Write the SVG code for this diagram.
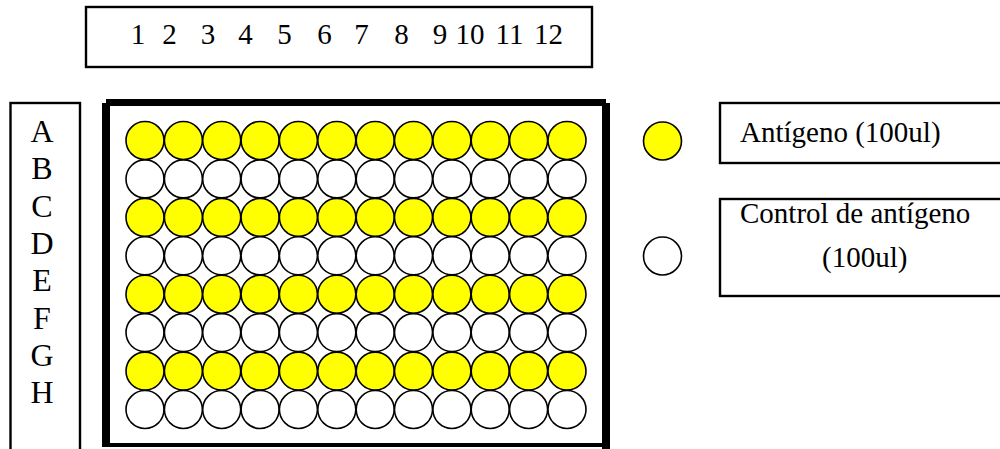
<svg xmlns="http://www.w3.org/2000/svg" width="1000" height="449" viewBox="0 0 1000 449">
<defs>
<style>
.box{fill:#fff;stroke:#000;stroke-width:2.4}
.t{font-family:"Liberation Serif","Times New Roman",serif;font-size:29px;fill:#000}
.L{font-family:"Liberation Serif","Times New Roman",serif;font-size:32px;fill:#000;text-anchor:middle}
.y{fill:#ffff00;stroke:#000;stroke-width:1.6}
.w{fill:#fff;stroke:#000;stroke-width:1.6}
</style>
<circle id="cy" r="19" class="y"/>
<circle id="cw" r="19" class="w"/>
</defs>
<rect width="1000" height="449" fill="#fff"/>

<g id="columns">
<rect class="box" x="86" y="7" width="506" height="60"/>
<g class="t" text-anchor="middle">
<text x="138" y="44">1</text>
<text x="169.5" y="44">2</text>
<text x="208" y="44">3</text>
<text x="245.5" y="44">4</text>
<text x="284.5" y="44">5</text>
<text x="324.5" y="44">6</text>
<text x="361.5" y="44">7</text>
<text x="401.5" y="44">8</text>
<text x="440" y="44">9</text>
<text x="470" y="44">10</text>
<text x="509.5" y="44">11</text>
<text x="548.5" y="44">12</text>
</g>
</g>

<g id="rows">
<rect class="box" x="10.5" y="103" width="69.5" height="400"/>
<text class="L" x="42" y="142">A</text>
<text class="L" x="42" y="179.3">B</text>
<text class="L" x="42" y="216.6">C</text>
<text class="L" x="42" y="253.9">D</text>
<text class="L" x="42" y="291.2">E</text>
<text class="L" x="42" y="328.5">F</text>
<text class="L" x="42" y="365.8">G</text>
<text class="L" x="42" y="403">H</text>
</g>

<g id="plate">
<rect x="106" y="99" width="500" height="7" fill="#000"/>
<rect x="102" y="103" width="8" height="344" fill="#000"/>
<rect x="102" y="443" width="504" height="4" fill="#000"/>
<rect x="602" y="103" width="8" height="350" fill="#000"/>
<g id="wells">
<g transform="translate(0,140.5)">
<use href="#cy" x="145"/><use href="#cy" x="183.4"/><use href="#cy" x="221.7"/><use href="#cy" x="260.1"/><use href="#cy" x="298.4"/><use href="#cy" x="336.8"/><use href="#cy" x="375.2"/><use href="#cy" x="413.5"/><use href="#cy" x="451.9"/><use href="#cy" x="490.2"/><use href="#cy" x="528.6"/><use href="#cy" x="567"/>
</g>
<g transform="translate(0,178.9)">
<use href="#cw" x="145"/><use href="#cw" x="183.4"/><use href="#cw" x="221.7"/><use href="#cw" x="260.1"/><use href="#cw" x="298.4"/><use href="#cw" x="336.8"/><use href="#cw" x="375.2"/><use href="#cw" x="413.5"/><use href="#cw" x="451.9"/><use href="#cw" x="490.2"/><use href="#cw" x="528.6"/><use href="#cw" x="567"/>
</g>
<g transform="translate(0,217.4)">
<use href="#cy" x="145"/><use href="#cy" x="183.4"/><use href="#cy" x="221.7"/><use href="#cy" x="260.1"/><use href="#cy" x="298.4"/><use href="#cy" x="336.8"/><use href="#cy" x="375.2"/><use href="#cy" x="413.5"/><use href="#cy" x="451.9"/><use href="#cy" x="490.2"/><use href="#cy" x="528.6"/><use href="#cy" x="567"/>
</g>
<g transform="translate(0,255.8)">
<use href="#cw" x="145"/><use href="#cw" x="183.4"/><use href="#cw" x="221.7"/><use href="#cw" x="260.1"/><use href="#cw" x="298.4"/><use href="#cw" x="336.8"/><use href="#cw" x="375.2"/><use href="#cw" x="413.5"/><use href="#cw" x="451.9"/><use href="#cw" x="490.2"/><use href="#cw" x="528.6"/><use href="#cw" x="567"/>
</g>
<g transform="translate(0,294.2)">
<use href="#cy" x="145"/><use href="#cy" x="183.4"/><use href="#cy" x="221.7"/><use href="#cy" x="260.1"/><use href="#cy" x="298.4"/><use href="#cy" x="336.8"/><use href="#cy" x="375.2"/><use href="#cy" x="413.5"/><use href="#cy" x="451.9"/><use href="#cy" x="490.2"/><use href="#cy" x="528.6"/><use href="#cy" x="567"/>
</g>
<g transform="translate(0,332.6)">
<use href="#cw" x="145"/><use href="#cw" x="183.4"/><use href="#cw" x="221.7"/><use href="#cw" x="260.1"/><use href="#cw" x="298.4"/><use href="#cw" x="336.8"/><use href="#cw" x="375.2"/><use href="#cw" x="413.5"/><use href="#cw" x="451.9"/><use href="#cw" x="490.2"/><use href="#cw" x="528.6"/><use href="#cw" x="567"/>
</g>
<g transform="translate(0,371.1)">
<use href="#cy" x="145"/><use href="#cy" x="183.4"/><use href="#cy" x="221.7"/><use href="#cy" x="260.1"/><use href="#cy" x="298.4"/><use href="#cy" x="336.8"/><use href="#cy" x="375.2"/><use href="#cy" x="413.5"/><use href="#cy" x="451.9"/><use href="#cy" x="490.2"/><use href="#cy" x="528.6"/><use href="#cy" x="567"/>
</g>
<g transform="translate(0,409.5)">
<use href="#cw" x="145"/><use href="#cw" x="183.4"/><use href="#cw" x="221.7"/><use href="#cw" x="260.1"/><use href="#cw" x="298.4"/><use href="#cw" x="336.8"/><use href="#cw" x="375.2"/><use href="#cw" x="413.5"/><use href="#cw" x="451.9"/><use href="#cw" x="490.2"/><use href="#cw" x="528.6"/><use href="#cw" x="567"/>
</g>
</g>
</g>

<g id="legend-antigen">
<use href="#cy" x="662.5" y="141"/>
<rect class="box" x="720" y="103" width="300" height="60"/>
<text class="t" x="740" y="142">Antígeno (100ul)</text>
</g>

<g id="legend-control">
<use href="#cw" x="662.5" y="256"/>
<rect class="box" x="720" y="199" width="300" height="97"/>
<text class="t" x="740" y="223">Control de antígeno</text>
<text class="t" x="822" y="267">(100ul)</text>
</g>

<g id="connectors"/>
</svg>
